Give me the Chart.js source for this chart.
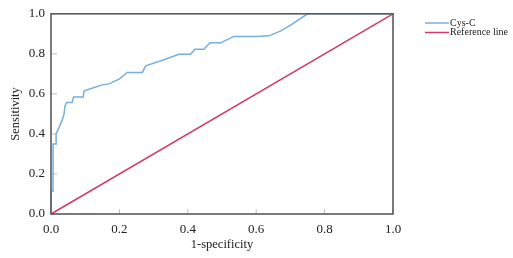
<!DOCTYPE html>
<html>
<head>
<meta charset="utf-8">
<script src="https://cdn.jsdelivr.net/npm/chart.js@4/dist/chart.umd.min.js"></script>
<style>
  html, body { margin: 0; padding: 0; background: #fff; }
  #wrap { width: 513px; height: 258px; }
</style>
</head>
<body>
<div id="wrap"><canvas id="rocChart"></canvas></div>
<script>
// ROC curve points
var fpr = [0, 0, 0.006, 0.006, 0.015, 0.015, 0.023, 0.033, 0.038, 0.041, 0.046, 0.062, 0.066, 0.094, 0.097, 0.12, 0.149, 0.17, 0.2, 0.223, 0.267, 0.277, 0.326, 0.374, 0.408, 0.421, 0.447, 0.465, 0.496, 0.535, 0.6, 0.637, 0.672, 0.705, 0.75, 1.0];
var tpr = [0, 0.115, 0.115, 0.35, 0.35, 0.40, 0.43, 0.47, 0.498, 0.54, 0.557, 0.557, 0.585, 0.585, 0.615, 0.628, 0.645, 0.65, 0.675, 0.707, 0.707, 0.74, 0.768, 0.798, 0.798, 0.823, 0.823, 0.855, 0.855, 0.887, 0.887, 0.89, 0.915, 0.948, 1.0, 1.0];
var refX = [0, 1];
var refY = [0, 1];
var seriesNames = ["Cys-C", "Reference line"];
var seriesColors = ["#76aee0", "#d2396c"];
var tickValues = [0, 0.2, 0.4, 0.6, 0.8, 1.0];

function pts(xs, ys) {
  return xs.map(function (x, i) { return { x: x, y: ys[i] }; });
}

var serif = "'Liberation Serif', 'Times New Roman', serif";

// frame, inward tick marks and the legend
var framePlugin = {
  id: 'frame',
  beforeDatasetsDraw: function (chart) {
    var c = chart.ctx, a = chart.chartArea;
    var xs = chart.scales.x, ys = chart.scales.y;
    c.save();
    c.strokeStyle = '#bdbdbd';
    c.lineWidth = 1;
    tickValues.forEach(function (v) {
      var px = xs.getPixelForValue(v);
      c.beginPath(); c.moveTo(px, a.bottom); c.lineTo(px, a.bottom - 5); c.stroke();
      var py = ys.getPixelForValue(v);
      c.beginPath(); c.moveTo(a.left, py); c.lineTo(a.left + 6, py); c.stroke();
    });
    c.restore();
  },
  afterDatasetsDraw: function (chart) {
    var c = chart.ctx, a = chart.chartArea;
    c.save();
    c.strokeStyle = '#5a5a5a';
    c.lineWidth = 1.6;
    c.strokeRect(a.left, a.top, a.right - a.left, a.bottom - a.top);
    // legend
    c.font = "10px " + serif;
    c.textBaseline = 'middle';
    c.fillStyle = '#222';
    seriesNames.forEach(function (name, i) {
      var y = 23 + i * 9.5;
      c.strokeStyle = seriesColors[i];
      c.lineWidth = 1.5;
      c.beginPath(); c.moveTo(425, y); c.lineTo(449, y); c.stroke();
      c.fillText(name, 450, y);
    });
    c.restore();
  }
};

new Chart(document.getElementById('rocChart'), {
  type: 'scatter',
  data: {
    datasets: [{
      label: seriesNames[0],
      data: pts(fpr, tpr),
      showLine: true,
      borderColor: seriesColors[0],
      borderWidth: 1.5,
      pointRadius: 0,
      tension: 0,
      clip: 2
    }, {
      label: seriesNames[1],
      data: pts(refX, refY),
      showLine: true,
      borderColor: seriesColors[1],
      borderWidth: 1.5,
      pointRadius: 0,
      clip: 2
    }]
  },
  options: {
    responsive: true,
    maintainAspectRatio: false,
    animation: false,
    layout: { padding: { left: 0, right: 120, top: 12, bottom: 0 } },
    plugins: { legend: { display: false }, tooltip: { enabled: false } },
    scales: {
      x: {
        type: 'linear', min: 0, max: 1,
        afterFit: function (s) { s.height = 44; },
        afterBuildTicks: function (s) { s.ticks = tickValues.map(function (v) { return { value: v }; }); },
        grid: { display: false, drawTicks: false },
        border: { display: false },
        ticks: {
          padding: 8, color: '#222', font: { family: serif, size: 13 },
          callback: function (v) { return v.toFixed(1); }
        },
        title: { display: true, text: '1-specificity', color: '#222', font: { family: serif, size: 12.5 }, padding: { top: 0, bottom: 6 } }
      },
      y: {
        type: 'linear', min: 0, max: 1,
        afterFit: function (s) { s.width = 51; },
        afterBuildTicks: function (s) { s.ticks = tickValues.map(function (v) { return { value: v }; }); },
        grid: { display: false, drawTicks: false },
        border: { display: false },
        ticks: {
          padding: 6, color: '#222', font: { family: serif, size: 13 },
          callback: function (v) { return v.toFixed(1); }
        },
        title: { display: true, text: 'Sensitivity', color: '#222', font: { family: serif, size: 12.5 }, padding: { top: 8, bottom: 0 } }
      }
    }
  },
  plugins: [framePlugin]
});
</script>
</body>
</html>
